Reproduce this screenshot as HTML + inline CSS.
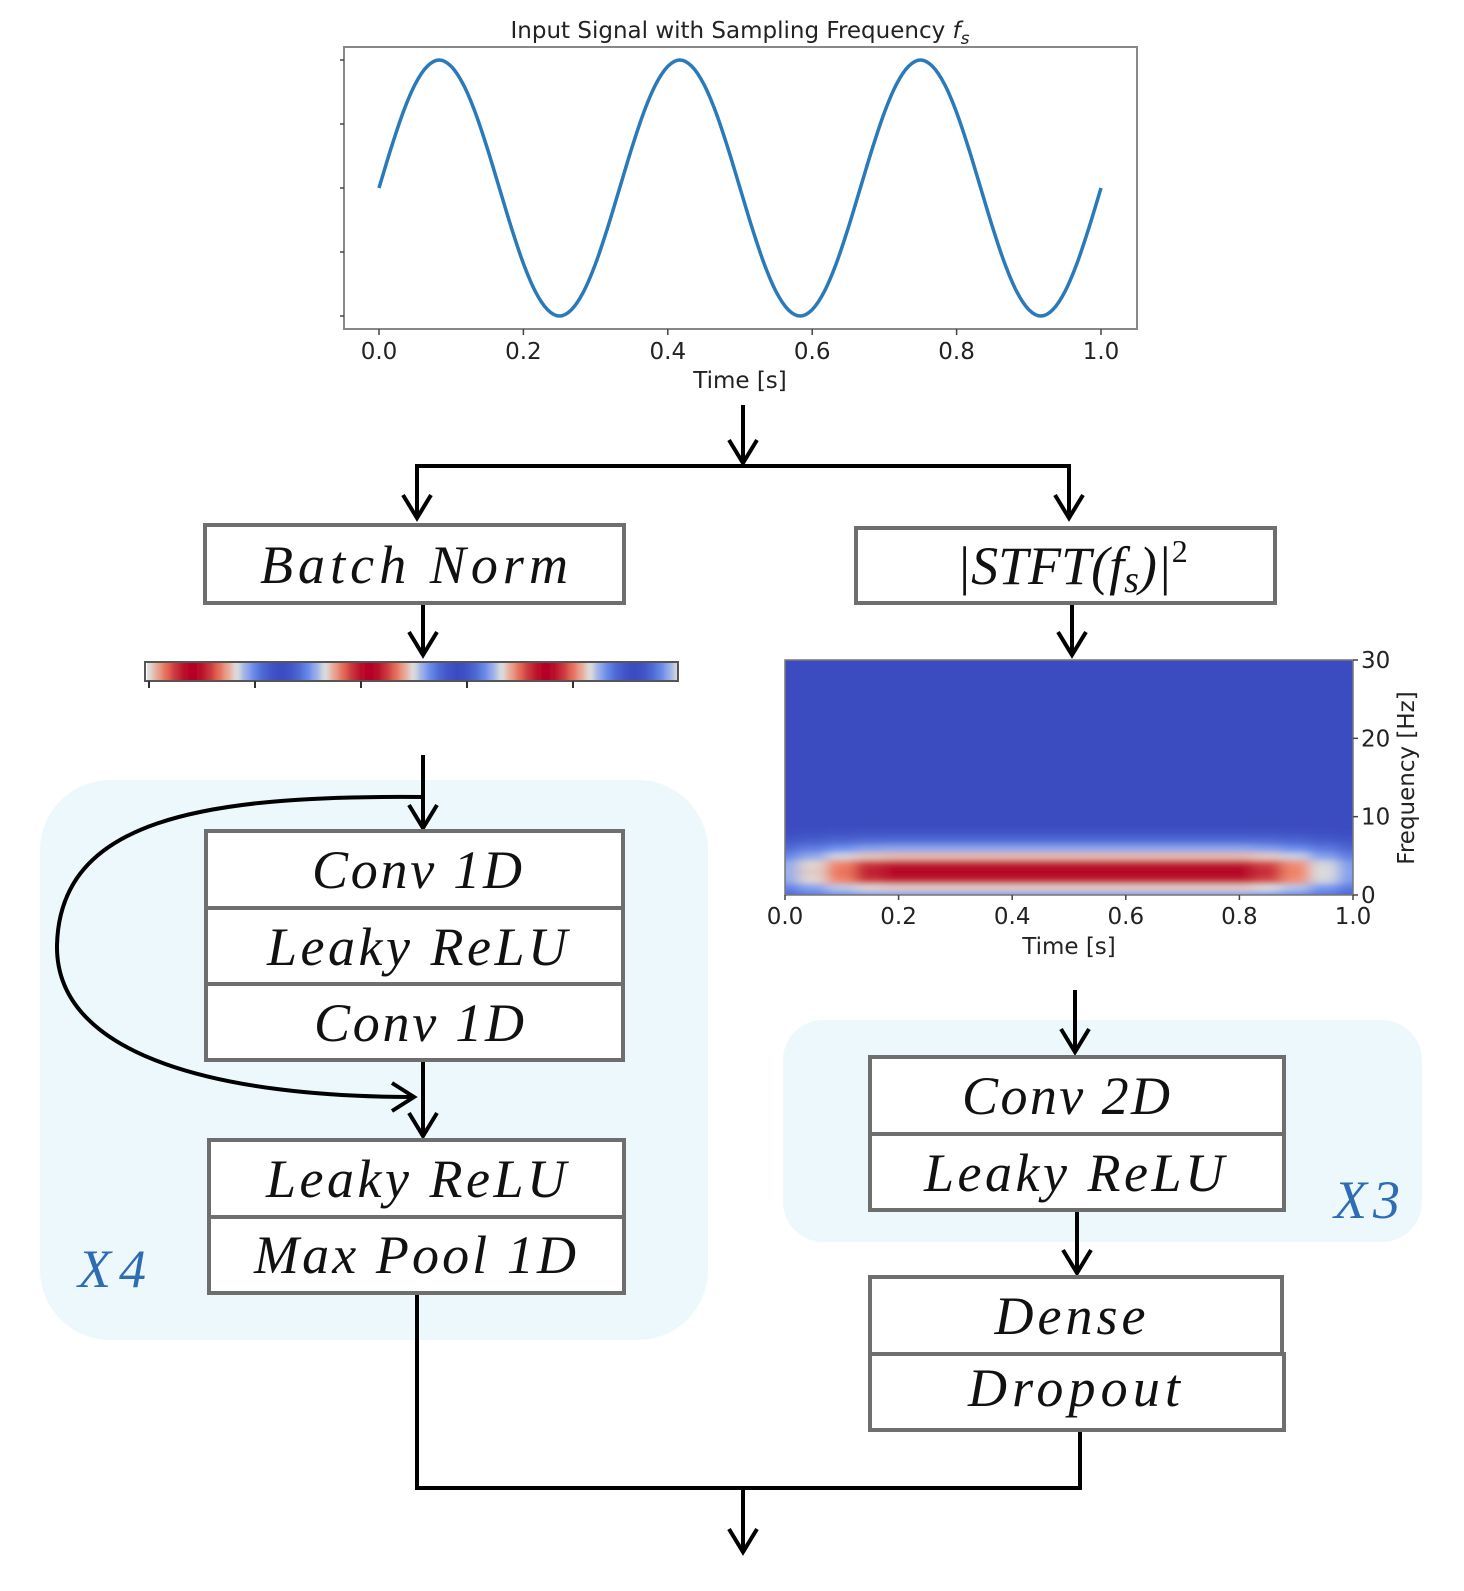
<!DOCTYPE html>
<html><head><meta charset="utf-8">
<style>
html,body{margin:0;padding:0;background:#fff;overflow:hidden;width:1464px;height:1591px;}
svg{display:block;}
.box{fill:#fff;stroke:#6e6e6e;stroke-width:4;}
.bt{font-family:"Liberation Serif",serif;font-style:italic;font-size:54px;fill:#111;text-anchor:middle;}
.ax{font-family:"DejaVu Sans","Liberation Sans",sans-serif;font-size:23px;fill:#222;}
.arr{stroke:#000;stroke-width:4;fill:none;}
</style></head>
<body>
<svg id="root" width="1464" height="1591" viewBox="0 0 1464 1591" xmlns="http://www.w3.org/2000/svg">
<defs>
<clipPath id="specClip"><rect x="785" y="660" width="568" height="235"/></clipPath>
<clipPath id="stripClip"><rect x="147" y="663" width="530" height="17"/></clipPath>
<filter id="blur" x="-5%" y="-20%" width="110%" height="140%"><feGaussianBlur stdDeviation="7 3"/></filter>
<filter id="blurS" x="-5%" y="-50%" width="110%" height="200%"><feGaussianBlur stdDeviation="3 0"/></filter>
</defs>

<rect x="40" y="780" width="668" height="560" rx="70" fill="#edf8fd"/>
<rect x="783" y="1020" width="639" height="222" rx="40" fill="#edf8fd"/>

<g id="topChart">
<text x="740" y="38" class="ax" font-size="27" text-anchor="middle">Input Signal with Sampling Frequency <tspan font-style="italic">f</tspan><tspan font-style="italic" font-size="17" dy="6">s</tspan></text>
<rect x="344" y="47" width="793" height="282" fill="#fff" stroke="#888" stroke-width="2"/>
<g id="topTicks"></g>
<text x="740" y="388" class="ax" font-size="24" text-anchor="middle">Time [s]</text>
</g>

<g>
<path class="arr" d="M743 405 V463 M415 466 H1071 M417 466 V518 M1069 466 V518"/>
<path class="arr" d="M423 603 V655 M1072 603 V655 M423 755 V828 M423 1060 V1136 M1075 990 V1052 M1077 1210 V1273 M417 1293 V1488 H1080 V1430 M743 1488 V1552"/>
<path class="arr" d="M423 797 C200 795 60 820 57 945 C55 1060 230 1097 413 1097"/>
<g fill="none" stroke="#000" stroke-width="4" stroke-linejoin="miter">
<path d="M729 440 L743 463 L757 440"/>
<path d="M403 495 L417 518 L431 495"/>
<path d="M1055 495 L1069 518 L1083 495"/>
<path d="M409 632 L423 655 L437 632"/>
<path d="M1058 632 L1072 655 L1086 632"/>
<path d="M409 805 L423 828 L437 805"/>
<path d="M409 1113 L423 1136 L437 1113"/>
<path d="M1061 1029 L1075 1052 L1089 1029"/>
<path d="M1063 1250 L1077 1273 L1091 1250"/>
<path d="M729 1529 L743 1552 L757 1529"/>
<path d="M392 1083 L414 1097 L392 1111"/>
</g>
</g>

<rect class="box" x="205" y="525" width="419" height="78"/>
<text class="bt" x="414" y="583" textLength="308" lengthAdjust="spacing">Batch Norm</text>
<rect class="box" x="856" y="528" width="419" height="75"/>
<text class="bt" x="1072" y="584">|STFT(f<tspan font-size="38" dy="8">s</tspan><tspan dy="-8">)|</tspan><tspan font-size="32" font-style="normal" dy="-22">2</tspan></text>

<rect class="box" x="206" y="831" width="417" height="77"/>
<text class="bt" x="417" y="888" textLength="210" lengthAdjust="spacing">Conv 1D</text>
<rect class="box" x="206" y="908" width="417" height="76"/>
<text class="bt" x="417" y="965" textLength="300" lengthAdjust="spacing">Leaky ReLU</text>
<rect class="box" x="206" y="984" width="417" height="76"/>
<text class="bt" x="419" y="1041" textLength="210" lengthAdjust="spacing">Conv 1D</text>
<rect class="box" x="209" y="1140" width="415" height="77"/>
<text class="bt" x="416" y="1197" textLength="300" lengthAdjust="spacing">Leaky ReLU</text>
<rect class="box" x="209" y="1217" width="415" height="76"/>
<text class="bt" x="415" y="1273" textLength="322" lengthAdjust="spacing">Max Pool 1D</text>

<rect class="box" x="870" y="1057" width="414" height="77"/>
<text class="bt" x="1066" y="1114" textLength="208" lengthAdjust="spacing">Conv 2D</text>
<rect class="box" x="870" y="1134" width="414" height="76"/>
<text class="bt" x="1074" y="1191" textLength="300" lengthAdjust="spacing">Leaky ReLU</text>
<rect class="box" x="870" y="1277" width="412" height="77"/>
<text class="bt" x="1070" y="1334" textLength="151" lengthAdjust="spacing">Dense</text>
<rect class="box" x="870" y="1354" width="414" height="76"/>
<text class="bt" x="1074" y="1406" textLength="212" lengthAdjust="spacing">Dropout</text>

<text class="bt" x="112" y="1287" textLength="68" lengthAdjust="spacing" style="fill:#2e6db4">X4</text>
<text class="bt" x="1367" y="1218" textLength="66" lengthAdjust="spacing" style="fill:#2e6db4">X3</text>

<g id="strip"></g>
<g id="spec"></g>
</svg>
<script>
// ---- data ----
const fineValues = [0,0.31,0.59,0.81,0.95,1,0.95,0.81,0.59,0.31,0,-0.31,-0.59,-0.81,-0.95,-1,-0.95,-0.81,-0.59,-0.31,0,0.31,0.59,0.81,0.95,1,0.95,0.81,0.59,0.31,0,-0.31,-0.59,-0.81,-0.95,-1,-0.95,-0.81,-0.59,-0.31,0,0.31,0.59,0.81,0.95,1,0.95,0.81,0.59,0.31,0,-0.31,-0.59,-0.81,-0.95,-1,-0.95,-0.81,-0.59,-0.31,0];
const fineTimes = [];
for (let i=0;i<fineValues.length;i++) fineTimes.push(i/60);
const xTickLabels = ["0.0","0.2","0.4","0.6","0.8","1.0"];
const xTickValues = [0,0.2,0.4,0.6,0.8,1.0];
const specTimeBins = [0,0.05,0.1,0.15,0.2,0.25,0.3,0.35,0.4,0.45,0.5,0.55,0.6,0.65,0.7,0.75,0.8,0.85,0.9,0.95,1.0];
const specEnvelope = [0.35,0.55,0.78,0.95,1,1,1,1,1,1,1,1,1,1,1,1,1,0.92,0.75,0.5,0.3];
const specFreqBins = [0,1,2,3,4,5,6,7,8,9,10];
const specProfile = [0.3,0.55,0.95,1,0.95,0.6,0.32,0.12,0.03,0,0];
const yTickLabels = ["0","10","20","30"];
const yTickValues = [0,10,20,30];

const NS="http://www.w3.org/2000/svg";
function mk(tag, attrs, parent){const e=document.createElementNS(NS,tag);for(const k in attrs)e.setAttribute(k,attrs[k]);parent.appendChild(e);return e;}
function coolwarm(v){
  const stops=[[-1,[59,76,192]],[-0.5,[110,145,240]],[0,[221,221,221]],[0.5,[240,130,100]],[1,[180,4,38]]];
  for(let i=0;i<stops.length-1;i++){const a=stops[i],b=stops[i+1];if(v<=b[0]){const t=(v-a[0])/(b[0]-a[0]);const c=a[1].map((x,j)=>Math.round(x+(b[1][j]-x)*t));return `rgb(${c})`;}}
  return "rgb(180,4,38)";
}

const tx = t => 379 + t*(1101-379);
const ty = v => 188 - v*128;
const topG = document.getElementById('topChart');
const tt = document.getElementById('topTicks');
xTickValues.forEach((t,i)=>{
  const tk=mk('line',{x1:tx(t),x2:tx(t),y1:329,y2:335,stroke:'#444','stroke-width':1.5},tt);
  
  
  const lb=mk('text',{x:tx(t),y:359,'text-anchor':'middle',class:'ax','font-size':24},tt);
  lb.textContent=xTickLabels[i];
  
  
});
[-1,-0.5,0,0.5,1].forEach(v=>{
  const tk=mk('line',{x1:340,x2:344,y1:ty(v),y2:ty(v),stroke:'#444','stroke-width':1.5},tt);
  
  
});
function smooth(xs, ys){
  let d=`M${xs[0]} ${ys[0]}`;
  for(let i=0;i<xs.length-1;i++){
    const x0=xs[Math.max(i-1,0)],y0=ys[Math.max(i-1,0)],x1=xs[i],y1=ys[i],x2=xs[i+1],y2=ys[i+1],x3=xs[Math.min(i+2,xs.length-1)],y3=ys[Math.min(i+2,ys.length-1)];
    d+=` C${x1+(x2-x0)/6} ${y1+(y2-y0)/6} ${x2-(x3-x1)/6} ${y2-(y3-y1)/6} ${x2} ${y2}`;
  }
  return d;
}
const sigLine = mk('path',{d:smooth(fineTimes.map(tx),fineValues.map(ty)),fill:'none',stroke:'#2a7ab9','stroke-width':3.5},topG);



const strip=document.getElementById('strip');
const sx = t => 149 + t*530;
mk('rect',{x:145,y:662,width:533,height:19,fill:'#fff',stroke:'#555','stroke-width':2},strip);
const sg=mk('g',{'clip-path':'url(#stripClip)'},strip);
const sgb=mk('g',{filter:'url(#blurS)'},sg);
fineTimes.forEach((t,i)=>{
  const r=mk('rect',{x:sx(t)-5,y:660,width:10,height:24,fill:coolwarm(fineValues[i])},sgb);
  
  
});
mk('rect',{x:145,y:662,width:533,height:19,fill:'none',stroke:'#555','stroke-width':2},strip);
[0,0.2,0.4,0.6,0.8].forEach(t=>{
  const tk=mk('line',{x1:sx(t),x2:sx(t),y1:681,y2:688,stroke:'#333','stroke-width':2},strip);
  
  
});

const spec=document.getElementById('spec');
const px = t => 785 + t*568;
const py = f => 895 - f*(235/30);
mk('rect',{x:785,y:660,width:568,height:235,fill:'#3b4cc0'},spec);
const cg=mk('g',{'clip-path':'url(#specClip)'},spec);
const cgb=mk('g',{filter:'url(#blur)'},cg);
specTimeBins.forEach((t,i)=>{
  specFreqBins.forEach((f,j)=>{
    const v=specEnvelope[i]*specProfile[j];
    const c=mk('rect',{x:px(t)-15,y:py(f)-4.5,width:30,height:9,fill:coolwarm(v*2-1)},cgb);
    
    
  });
});
mk('rect',{x:785,y:660,width:568,height:235,fill:'none',stroke:'#777','stroke-width':1.5},spec);
xTickValues.forEach((t,i)=>{
  mk('line',{x1:px(t),x2:px(t),y1:895,y2:900,stroke:'#444','stroke-width':1.5},spec);
  const lb=mk('text',{x:px(t),y:924,'text-anchor':'middle',class:'ax'},spec);
  lb.textContent=xTickLabels[i];
  
  
});
yTickValues.forEach((f,i)=>{
  mk('line',{x1:1353,x2:1358,y1:py(f),y2:py(f),stroke:'#444','stroke-width':1.5},spec);
  const lb=mk('text',{x:1361,y:py(f)+8,class:'ax'},spec);
  lb.textContent=yTickLabels[i];
  
  
});
const xt=mk('text',{x:1069,y:954,'text-anchor':'middle',class:'ax'},spec);
xt.textContent='Time [s]';


const yt=mk('text',{x:0,y:0,'text-anchor':'middle',class:'ax',transform:'translate(1414 778) rotate(-90)'},spec);
yt.textContent='Frequency [Hz]';


</script>
</body></html>
